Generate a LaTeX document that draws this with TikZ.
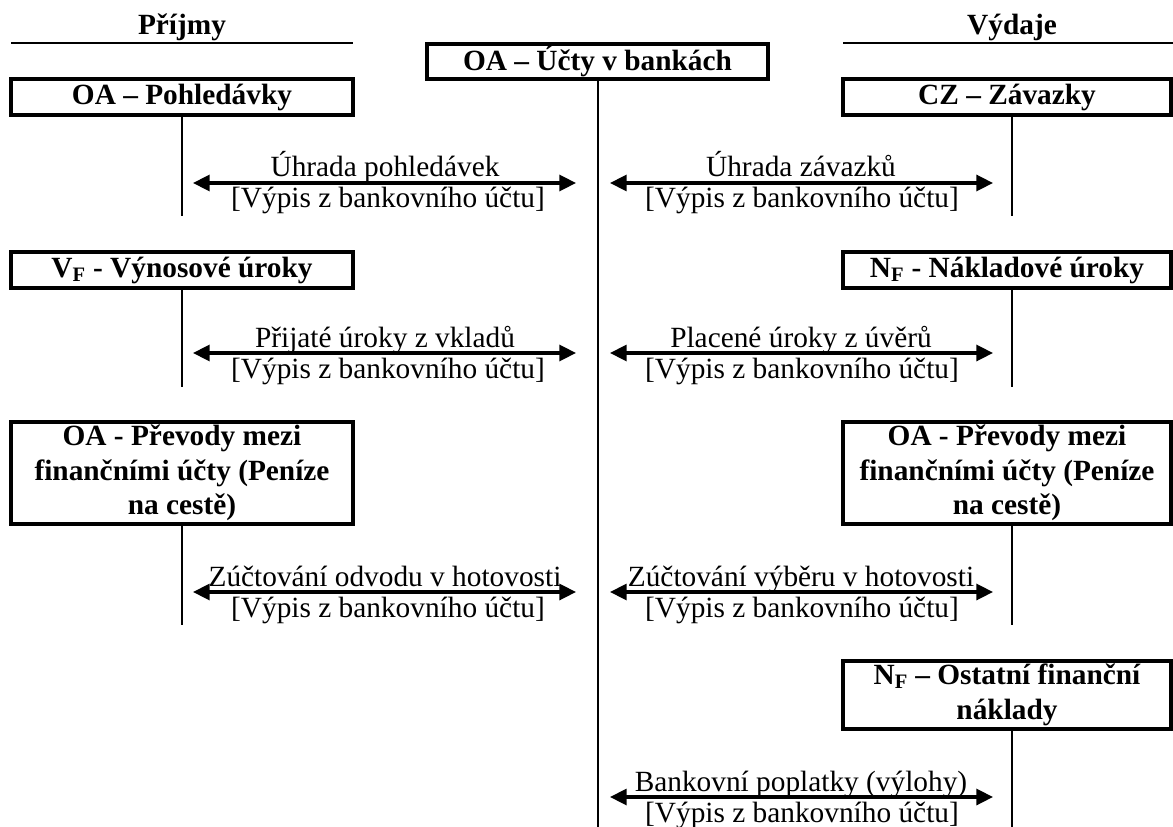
\documentclass[tikz,border=0pt]{standalone}
\usepackage{fontspec}
\setmainfont{Liberation Serif}
\usetikzlibrary{arrows.meta}
\begin{document}
\begin{tikzpicture}[x=0.75pt,y=-0.75pt,
  txt/.style={inner sep=0pt,font=\fontsize{22}{26}\selectfont},
  head/.style={inner sep=0pt,font=\fontsize{22}{26}\selectfont\bfseries},
  acct/.style={draw,line width=2.5pt,inner sep=0pt,align=center,
    font=\fontsize{22}{26}\selectfont\bfseries},
  lbox/.style={acct,minimum width=256.5pt},
  rbox/.style={acct,minimum width=246pt},
  tline/.style={line width=1.9pt},
  flow/.style={line width=2.4pt,
    {Triangle[length=12.5pt,width=12pt]}-{Triangle[length=12.5pt,width=12pt]}}
]
\useasboundingbox (0,0) rectangle (1173,827);
\clip (0,0) rectangle (1173,827);

% headings
\node[head] (prijmy) at (182,27) {Příjmy};
\node[head] (vydaje) at (1012,27) {Výdaje};
\coordinate (hl1) at (11,43);  \coordinate (hl2) at (353,43);
\coordinate (hr1) at (843,43); \coordinate (hr2) at (1175,43);
\draw[tline] (hl1) -- (hl2);
\draw[tline] (hr1) -- (hr2);

% central account
\node[acct,minimum width=255.75pt,minimum height=26.25pt] (bank) at (597.5,61.5) {OA – Účty v bankách};
\coordinate (bankEnd) at (598,835);
\draw[tline] (bankEnd |- bank.south) -- (bankEnd);

% boxes
\node[lbox,minimum height=27pt] (l1) at (182,97) {OA – Pohledávky};
\node[rbox,minimum height=27pt] (r1) at (1007,97) {CZ – Závazky};
\node[lbox,minimum height=27pt] (l2) at (182,270) {V\textsubscript{F} - Výnosové úroky};
\node[rbox,minimum height=27pt] (r2) at (1007,270) {N\textsubscript{F} - Nákladové úroky};
\node[lbox,minimum height=76.5pt] (l3) at (182,473) {OA - Převody mezi\\finančními účty (Peníze\\na cestě)};
\node[rbox,minimum height=76.5pt] (r3) at (1007,473) {OA - Převody mezi\\finančními účty (Peníze\\na cestě)};
\node[rbox,minimum height=51pt] (r4) at (1007,695) {N\textsubscript{F} – Ostatní finanční\\náklady};

% vertical T-lines
\coordinate (l1e) at (182,216);  \draw[tline] (l1e |- l1.south) -- (l1e);
\coordinate (r1e) at (1012,216); \draw[tline] (r1e |- r1.south) -- (r1e);
\coordinate (l2e) at (182,387);  \draw[tline] (l2e |- l2.south) -- (l2e);
\coordinate (r2e) at (1012,387); \draw[tline] (r2e |- r2.south) -- (r2e);
\coordinate (l3e) at (182,625);  \draw[tline] (l3e |- l3.south) -- (l3e);
\coordinate (r3e) at (1012,625); \draw[tline] (r3e |- r3.south) -- (r3e);
\coordinate (r4e) at (1012,835); \draw[tline] (r4e |- r4.south) -- (r4e);

% row 1
\coordinate (a1a) at (193,183); \coordinate (a1b) at (576,183);
\coordinate (a1c) at (610,183); \coordinate (a1d) at (993,183);
\draw[flow] (a1a) -- (a1b);
\draw[flow] (a1c) -- (a1d);
\node[txt,anchor=base] (t1a) at (385,177) {Úhrada pohledávek};
\node[txt,anchor=base] (t1b) at (388,208) {[Výpis z bankovního účtu]};
\node[txt,anchor=base] (t1c) at (801,177) {Úhrada závazků};
\node[txt,anchor=base] (t1d) at (802,208) {[Výpis z bankovního účtu]};

% row 2
\coordinate (a2a) at (193,353); \coordinate (a2b) at (576,353);
\coordinate (a2c) at (610,353); \coordinate (a2d) at (993,353);
\draw[flow] (a2a) -- (a2b);
\draw[flow] (a2c) -- (a2d);
\node[txt,anchor=base] (t2a) at (385,347) {Přijaté úroky z vkladů};
\node[txt,anchor=base] (t2b) at (388,378) {[Výpis z bankovního účtu]};
\node[txt,anchor=base] (t2c) at (801,347) {Placené úroky z úvěrů};
\node[txt,anchor=base] (t2d) at (802,378) {[Výpis z bankovního účtu]};

% row 3
\coordinate (a3a) at (193,592); \coordinate (a3b) at (576,592);
\coordinate (a3c) at (610,592); \coordinate (a3d) at (993,592);
\draw[flow] (a3a) -- (a3b);
\draw[flow] (a3c) -- (a3d);
\node[txt,anchor=base] (t3a) at (385,586) {Zúčtování odvodu v hotovosti};
\node[txt,anchor=base] (t3b) at (388,617) {[Výpis z bankovního účtu]};
\node[txt,anchor=base] (t3c) at (801,586) {Zúčtování výběru v hotovosti};
\node[txt,anchor=base] (t3d) at (802,617) {[Výpis z bankovního účtu]};

% row 4
\coordinate (a4c) at (610,797); \coordinate (a4d) at (993,797);
\draw[flow] (a4c) -- (a4d);
\node[txt,anchor=base] (t4c) at (801,791) {Bankovní poplatky (výlohy)};
\node[txt,anchor=base] (t4d) at (802,822) {[Výpis z bankovního účtu]};
\end{tikzpicture}
\end{document}
